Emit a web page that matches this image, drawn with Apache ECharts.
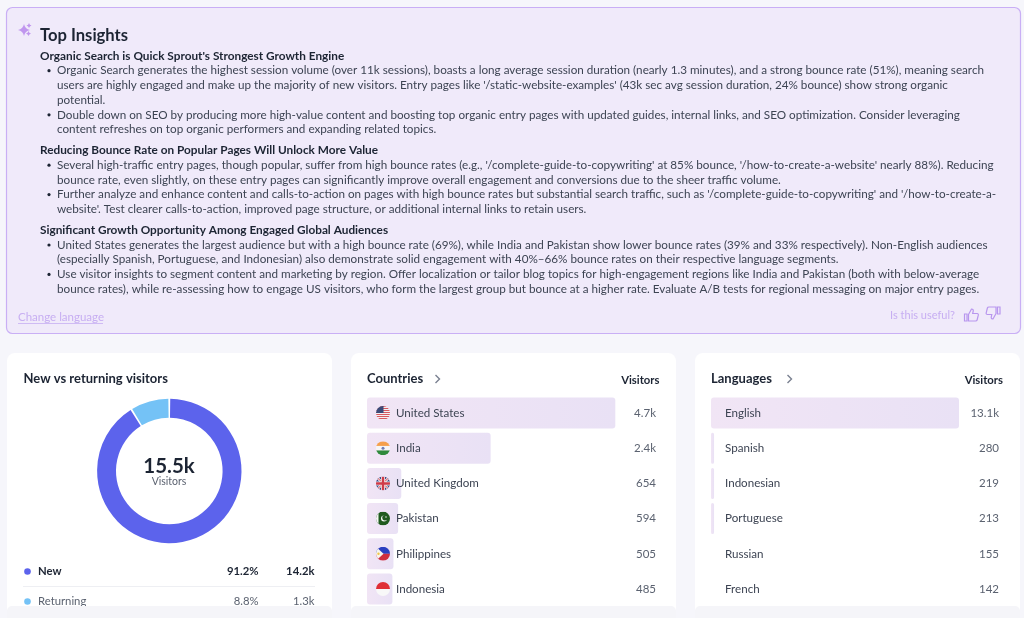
<!DOCTYPE html>
<html>
<head>
<meta charset="utf-8">
<title>Top Insights</title>
<script src="https://cdn.jsdelivr.net/npm/echarts@6/dist/echarts.min.js"></script>
<style>
    html, body { margin: 0; padding: 0; background: #f6f6fb; }
    #main { width: 1024px; height: 618px; }
</style>
</head>
<body>
<div id="main"></div>
<script type="text/javascript">
    // chart values
    var visitorNames = ['New', 'Returning'];
    var visitorShares = [91.2, 8.8];
    var visitorCounts = ['14.2k', '1.3k'];
    var visitorTotal = '15.5k';

    var countryNames = ['United States', 'India', 'United Kingdom', 'Pakistan', 'Philippines', 'Indonesia'];
    var countryVisitors = [4740, 2360, 654, 594, 505, 485];

    var languageNames = ['English', 'Spanish', 'Indonesian', 'Portuguese', 'Russian', 'French'];
    var languageVisitors = [13100, 280, 219, 213, 155, 142];
    // the two shortest language rows have no visible bar in the picture
    var languageBars = [13100, 160, 160, 160, 0, 0];

    var insightBlocks = [
        ["Organic Search is Quick Sprout's Strongest Growth Engine",
            ["Organic Search generates the highest session volume (over 11k sessions), boasts a long average session duration (nearly 1.3 minutes), and a strong bounce rate (51%), meaning search",
             "users are highly engaged and make up the majority of new visitors. Entry pages like '/static-website-examples' (43k sec avg session duration, 24% bounce) show strong organic",
             "potential."],
            ["Double down on SEO by producing more high-value content and boosting top organic entry pages with updated guides, internal links, and SEO optimization. Consider leveraging",
             "content refreshes on top organic performers and expanding related topics."]],
        ["Reducing Bounce Rate on Popular Pages Will Unlock More Value",
            ["Several high-traffic entry pages, though popular, suffer from high bounce rates (e.g., '/complete-guide-to-copywriting' at 85% bounce, '/how-to-create-a-website' nearly 88%). Reducing",
             "bounce rate, even slightly, on these entry pages can significantly improve overall engagement and conversions due to the sheer traffic volume."],
            ["Further analyze and enhance content and calls-to-action on pages with high bounce rates but substantial search traffic, such as '/complete-guide-to-copywriting' and '/how-to-create-a-",
             "website'. Test clearer calls-to-action, improved page structure, or additional internal links to retain users."]],
        ["Significant Growth Opportunity Among Engaged Global Audiences",
            ["United States generates the largest audience but with a high bounce rate (69%), while India and Pakistan show lower bounce rates (39% and 33% respectively). Non-English audiences",
             "(especially Spanish, Portuguese, and Indonesian) also demonstrate solid engagement with 40%\u201366% bounce rates on their respective language segments."],
            ["Use visitor insights to segment content and marketing by region. Offer localization or tailor blog topics for high-engagement regions like India and Pakistan (both with below-average",
             "bounce rates), while re-assessing how to engage US visitors, who form the largest group but bounce at a higher rate. Evaluate A/B tests for regional messaging on major entry pages."]]
    ];

    var FONT = 'Lato, "Noto Sans", sans-serif';
    var DARK = '#1c2433', BODY = '#3d4453', MUTED = '#5b6270', LILAC = '#c7aef2';

    // icons are registered as shapes, the graphic component has no plain path type
    var icons = {
        sparkle: 'M24 24 Q25 29 30 30 Q25 31 24 36 Q23 31 18 30 Q23 29 24 24Z M29 23 Q29.5 25 31.5 25.5 Q29.5 26 29 28 Q28.5 26 26.5 25.5 Q28.5 25 29 23Z M28.5 31 Q29 33 31 33.5 Q29 34 28.5 36 Q28 34 26 33.5 Q28 33 28.5 31Z',
        thumbUp: 'M0 6H2.5V13H0Z M4 6.5L7 1C8.5 1 9 2 8.7 3.2L8.2 5.5H12.6C13.6 5.5 14 6.3 13.8 7.2L12.6 12C12.4 12.8 11.8 13 11 13H4Z',
        thumbDown: 'M14 7H11.5V0H14Z M10 6.5L7 12C5.5 12 5 11 5.3 9.8L5.8 7.5H1.4C0.4 7.5 0 6.7 0.2 5.8L1.4 1C1.6 0.2 2.2 0 3 0H10Z',
        chevron: 'M0 0L4 4L0 8'
    };
    Object.keys(icons).forEach(function (name) {
        echarts.graphic.registerShape(name, echarts.graphic.extendPath(icons[name]));
    });

    function fmt(v) { return v >= 1000 ? (v / 1000).toFixed(1) + 'k' : String(v); }

    function txt(text, x, y, size, weight, color, align, z) {
        return {
            type: 'text', z: z || 6, silent: true,
            style: {
                text: text, x: x, y: y, fill: color, textAlign: align || 'left', textVerticalAlign: 'middle',
                font: (weight || 400) + ' ' + size + 'px ' + FONT
            }
        };
    }
    function box(x, y, w, h, r, fill, stroke, z) {
        return {
            type: 'rect', z: z || 0, silent: true,
            shape: { x: x, y: y, width: w, height: h, r: r },
            style: { fill: fill, stroke: stroke || null, lineWidth: stroke ? 1.2 : 0 }
        };
    }
    function icon(name, x, y, color, width) {
        return {
            type: name, z: 6, silent: true, x: x, y: y,
            style: { stroke: color, lineWidth: width, fill: 'none' }
        };
    }

    function flag(inner) {
        var svg = '<svg xmlns="http://www.w3.org/2000/svg" width="56" height="56" viewBox="0 0 28 28">' +
            '<clipPath id="c"><circle cx="14" cy="14" r="14"/></clipPath><g clip-path="url(#c)">' + inner + '</g></svg>';
        return 'data:image/svg+xml;charset=utf-8,' + encodeURIComponent(svg);
    }
    var usStripes = '<rect width="28" height="28" fill="#f3f0f2"/>';
    [0, 4, 8, 12, 16, 20, 24].forEach(function (y) { usStripes += '<rect y="' + y + '" width="28" height="2" fill="#d8585f"/>'; });
    var flags = [
        flag(usStripes + '<rect width="15" height="14" fill="#3c4a78"/>'),
        flag('<rect width="28" height="9.5" fill="#f5a04a"/><rect y="9.5" width="28" height="9" fill="#f6f6f6"/><rect y="18.5" width="28" height="9.5" fill="#2f8a3c"/><circle cx="14" cy="14" r="3" fill="#6f7fb5"/>'),
        flag('<rect width="28" height="28" fill="#3a4a86"/><path d="M0 0L28 28M28 0L0 28" stroke="#f3f3f3" stroke-width="5"/><path d="M0 0L28 28M28 0L0 28" stroke="#cf3a48" stroke-width="2"/><path d="M14 0V28M0 14H28" stroke="#f3f3f3" stroke-width="8"/><path d="M14 0V28M0 14H28" stroke="#cf3a48" stroke-width="5"/>'),
        flag('<rect width="28" height="28" fill="#1f5a1e"/><rect width="5" height="28" fill="#f6f6f6"/><circle cx="16" cy="14" r="6" fill="#f6f6f6"/><circle cx="18" cy="12.5" r="5.5" fill="#1f5a1e"/><circle cx="20" cy="11" r="1.5" fill="#f6f6f6"/>'),
        flag('<rect width="28" height="14" fill="#2a3fc0"/><rect y="14" width="28" height="14" fill="#cf2f3f"/><path d="M0 0L15 14L0 28Z" fill="#f7f5ee"/><circle cx="5" cy="14" r="2.4" fill="#f0c64a"/>'),
        flag('<rect width="28" height="14" fill="#df2f36"/><rect y="14" width="28" height="14" fill="#f8f8f8"/>')
    ];

    var graphics = [];

    // insight panel
    graphics.push(box(6.5, 7.5, 1014, 326, 6, '#f0eafa', '#c9aff5'));
    graphics.push(txt('Top Insights', 40, 35.5, 16.6, 700, DARK));
    graphics.push({ type: 'sparkle', z: 6, silent: true, style: { fill: '#c096ee' } });

    var lineY = 56;
    insightBlocks.forEach(function (block, b) {
        graphics.push(txt(block[0], 40, lineY, 11.8, 700, DARK));
        block.slice(1).forEach(function (bullet) {
            bullet.forEach(function (line, i) {
                lineY += 14.7;
                if (i === 0) {
                    graphics.push({ type: 'circle', z: 6, silent: true, shape: { cx: 49, cy: lineY, r: 1.6 }, style: { fill: DARK } });
                }
                graphics.push(txt(line, 57, lineY, 11.7, 400, BODY));
            });
        });
        lineY += 21;
    });

    graphics.push(txt('Change language', 18, 317, 11.5, 400, LILAC));
    graphics.push({ type: 'line', z: 6, silent: true, shape: { x1: 18, y1: 323.5, x2: 103, y2: 323.5 }, style: { stroke: LILAC, lineWidth: 0.8 } });
    graphics.push(txt('Is this useful?', 955, 315, 11, 400, LILAC, 'right'));
    graphics.push(icon('thumbUp', 964.5, 308, '#b896ee', 1.2));
    graphics.push(icon('thumbDown', 986, 307, '#b896ee', 1.2));

    // cards
    graphics.push(box(7, 353, 325, 270, 8, '#ffffff'));
    graphics.push(box(351, 353, 325, 270, 8, '#ffffff'));
    graphics.push(box(695, 353, 325, 270, 8, '#ffffff'));

    // new vs returning
    graphics.push(txt('New vs returning visitors', 23.5, 379, 13, 700, DARK));
    graphics.push(txt(visitorTotal, 169, 466, 20.5, 700, DARK, 'center'));
    graphics.push(txt('Visitors', 169, 482, 10.5, 400, MUTED, 'center'));
    var dotColors = ['#5c63ec', '#74c2f6'];
    visitorNames.forEach(function (name, i) {
        var y = 571.5 + i * 30;
        var w = i === 0 ? 700 : 400, c = i === 0 ? DARK : MUTED;
        graphics.push({ type: 'circle', z: 6, silent: true, shape: { cx: 27.5, cy: y, r: 3.3 }, style: { fill: dotColors[i] } });
        graphics.push(txt(name, 38, y, 11.3, w, c));
        graphics.push(txt(visitorShares[i].toFixed(1) + '%', 258.5, y, 11.3, w, c, 'right'));
        graphics.push(txt(visitorCounts[i], 314.5, y, 11.3, w, c, 'right'));
    });
    graphics.push({ type: 'line', z: 6, silent: true, shape: { x1: 23, y1: 586.5, x2: 315, y2: 586.5 }, style: { stroke: '#eeeff3', lineWidth: 1 } });

    // list headers
    graphics.push(txt('Countries', 367, 379, 13, 700, DARK));
    graphics.push(icon('chevron', 435.5, 375, '#7a8090', 1.4));
    graphics.push(txt('Visitors', 659.5, 380.5, 11.3, 700, DARK, 'right'));
    graphics.push(txt('Languages', 711, 379, 13, 700, DARK));
    graphics.push(icon('chevron', 787.5, 375, '#7a8090', 1.4));
    graphics.push(txt('Visitors', 1003, 380.5, 11.3, 700, DARK, 'right'));

    flags.forEach(function (src, i) {
        graphics.push({
            type: 'image', z: 6, silent: true,
            style: { image: src, x: 376, y: 406 + i * 35.2, width: 14, height: 14 }
        });
    });

    // page fade that cuts off the cards at the bottom edge
    [[7, 325], [351, 325], [695, 325]].forEach(function (c) {
        graphics.push(box(c[0], 606, c[1], 12, [5, 5, 0, 0], '#f5f5f9', null, 10));
    });

    var barFill = new echarts.graphic.LinearGradient(0, 0, 1, 0, [
        { offset: 0, color: '#f1e5f5' },
        { offset: 1, color: '#e9e1f5' }
    ]);

    function listAxes(names, values, grid, nameMargin) {
        return [
            {
                type: 'category', gridIndex: grid, inverse: true, data: names, z: 5,
                axisLine: { show: false }, axisTick: { show: false }, splitLine: { show: false },
                axisLabel: { inside: true, margin: nameMargin, align: 'left', color: BODY, fontFamily: FONT, fontSize: 11.6 }
            },
            {
                type: 'category', gridIndex: grid, inverse: true, position: 'right', data: values.map(fmt), z: 5,
                axisLine: { show: false }, axisTick: { show: false }, splitLine: { show: false },
                axisLabel: { inside: true, margin: 0, align: 'right', color: MUTED, fontFamily: FONT, fontSize: 11.5 }
            }
        ];
    }

    var myChart = echarts.init(document.getElementById('main'));

    var option = {
        backgroundColor: '#f6f6fb',
        animation: false,
        grid: [
            { left: 367, top: 395.4, width: 289, height: 211.2 },
            { left: 711, top: 395.4, width: 288, height: 211.2 }
        ],
        xAxis: [
            { type: 'value', gridIndex: 0, min: 0, max: 5517, show: false },
            { type: 'value', gridIndex: 1, min: 0, max: 15213, show: false }
        ],
        yAxis: listAxes(countryNames, countryVisitors, 0, 29).concat(listAxes(languageNames, languageVisitors, 1, 14)),
        series: [
            {
                type: 'pie', z: 2, silent: true,
                center: [169.3, 471], radius: [53.3, 72.2], startAngle: 90, clockwise: true,
                padAngle: 1.5,
                label: { show: false }, labelLine: { show: false },
                data: visitorNames.map(function (name, i) {
                    return { name: name, value: visitorShares[i], itemStyle: { color: dotColors[i] } };
                })
            },
            {
                type: 'bar', xAxisIndex: 0, yAxisIndex: 0, z: 2, silent: true, barWidth: 31,
                itemStyle: { color: barFill, borderRadius: 3 },
                data: countryVisitors
            },
            {
                type: 'bar', xAxisIndex: 1, yAxisIndex: 2, z: 2, silent: true, barWidth: 31,
                itemStyle: { color: barFill, borderRadius: 3 },
                data: languageBars
            }
        ],
        graphic: { elements: graphics }
    };

    myChart.setOption(option);
</script>
</body>
</html>
